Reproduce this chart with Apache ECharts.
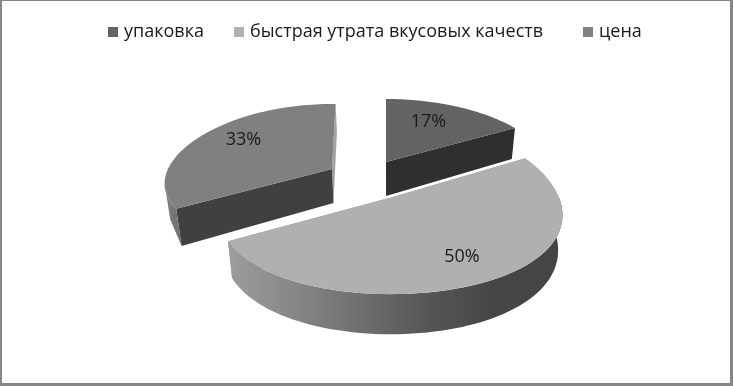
<!DOCTYPE html>
<html><head><meta charset="utf-8">
<style>html,body{margin:0;padding:0;background:#fff}
#c{position:absolute;left:0;top:0;width:733px;height:386px}</style>
<script src="https://cdn.jsdelivr.net/npm/echarts@6/dist/echarts.min.js"></script>
</head><body><div id="c"></div>
<script>
const categories = ['упаковка', 'быстрая утрата вкусовых качеств', 'цена'];
const values = [17, 50, 33];
const topColors = ['#636363', '#b0b0b0', '#808080'];
const chordColors = ['#2f2f2f', '#8a8a8a', '#404040'];
const legendLefts = [108, 234, 583];

// projection layout for the tilted, exploded pie
const apex = [[386, 162], [391, 197.5], [332, 169]];
const radiusX = [165.6, 168, 164];
const radiusY = [79.4, 86, 71.5];
const perspX = [0.26, 0.2, 0.2];
const perspY = [0.26, 0.11, 0.1];
const startAdjust = [0, 0, -3];
const endAdjust = [0, 0, 1.5];
const labelAngleShift = [-4, -1, 5.75];
const labelRadial = [0.66, 0.74, 0.72];
const wallBottomSteps = [72, 72, 1];
const wallEnd = [290, 290, 258];
const drawOrder = [0, 2, 1];
const H = 34, Hk = 0.18, VX = 390, VK = 0.025;

const total = values.reduce((a, b) => a + b, 0);
function rad(d) { return d * Math.PI / 180; }
function proj(i, tDeg, f, z) {
  const u = Math.sin(rad(tDeg)) * f, v = -Math.cos(rad(tDeg)) * f;
  let x = apex[i][0] + radiusX[i] * u / (1 - perspX[i] * v);
  let y = apex[i][1] + radiusY[i] * v / (1 - perspY[i] * v);
  if (z) { x += (VX - x) * VK; y += H * (1 + Hk * v); }
  return [x, y];
}
function arc(i, a, b, z, n) {
  const pts = [];
  for (let k = 0; k <= n; k++) pts.push(proj(i, a + (b - a) * k / n, 1, z));
  return pts;
}
function poly(points, fill) {
  return { type: 'polygon', shape: { points }, style: { fill, stroke: null } };
}
function wallFill(i) {
  if (i === 1) return { type: 'linear', x: 230, y: 0, x2: 564, y2: 0, global: true, colorStops: [
    { offset: 0, color: '#9c9c9c' }, { offset: 0.25, color: '#808080' },
    { offset: 0.6, color: '#555555' }, { offset: 0.78, color: '#464646' }, { offset: 1, color: '#444444' }] };
  return { type: 'linear', x: 165, y: 0, x2: 182, y2: 0, global: true, colorStops: [
    { offset: 0, color: '#7e7e7e' }, { offset: 1, color: '#707070' }] };
}
function render(i) {
  return function () {
    let start = 0;
    for (let k = 0; k < i; k++) start += values[k];
    const a = start / total * 360 + startAdjust[i], b = (start + values[i]) / total * 360 + endAdjust[i];
    const apexTop = proj(i, 0, 0, 0), apexBot = proj(i, 0, 0, 1);
    const kids = [];
    // radial faces: the end face first, the start face over it
    kids.push(poly([apexTop, apexBot, proj(i, b, 1, 1), proj(i, b, 1, 0)], i === 2 ? '#a2a2a2' : chordColors[i]));
    kids.push(poly([apexTop, apexBot, proj(i, a, 1, 1), proj(i, a, 1, 0)], chordColors[i]));
    // outer wall: only the part turned towards the viewer
    const w0 = Math.max(a, 90), w1 = Math.min(b, wallEnd[i]);
    if (w1 > w0) kids.push(poly(arc(i, w0, w1, 0, 72).concat(arc(i, w0, w1, 1, wallBottomSteps[i]).reverse()), wallFill(i)));
    // top face
    kids.push(poly([apexTop].concat(arc(i, a, b, 0, 72)), topColors[i]));
    const m = proj(i, (a + b) / 2 + labelAngleShift[i], labelRadial[i], 0);
    kids.push({ type: 'text', style: {
      text: Math.round(values[i] / total * 100) + '%', x: m[0], y: m[1],
      align: 'center', verticalAlign: 'middle', fill: '#1a1a1a',
      font: '18px "Open Sans", "Noto Sans", sans-serif' } });
    return { type: 'group', children: kids };
  };
}
const chart = echarts.init(document.getElementById('c'), null, { renderer: 'canvas' });
chart.setOption({
  animation: false,
  backgroundColor: '#fff',
  legend: categories.map((c, i) => ({
    data: [c], left: legendLefts[i], top: 23, itemWidth: 10, itemHeight: 10, icon: 'rect',
    itemGap: 0, padding: 0, selectedMode: false,
    textStyle: { fontFamily: '"Open Sans", "Noto Sans", sans-serif', fontSize: 18, color: '#1a1a1a', padding: [0, 0, 0, 1] }
  })),
  series: drawOrder.map(i => ({
    type: 'custom', name: categories[i], coordinateSystem: 'none',
    itemStyle: { color: topColors[i] }, silent: true,
    renderItem: render(i), data: [values[i]]
  })),
  graphic: [
    { type: 'rect', silent: true, z: 100, shape: { x: 0, y: 0, width: 733, height: 1 }, style: { fill: '#868686' } },
    { type: 'rect', silent: true, z: 100, shape: { x: 0, y: 0, width: 2, height: 386 }, style: { fill: '#868686' } },
    { type: 'rect', silent: true, z: 100, shape: { x: 730, y: 0, width: 3, height: 386 }, style: { fill: '#868686' } },
    { type: 'rect', silent: true, z: 100, shape: { x: 0, y: 383, width: 733, height: 3 }, style: { fill: '#868686' } }
  ]
});
</script></body></html>
